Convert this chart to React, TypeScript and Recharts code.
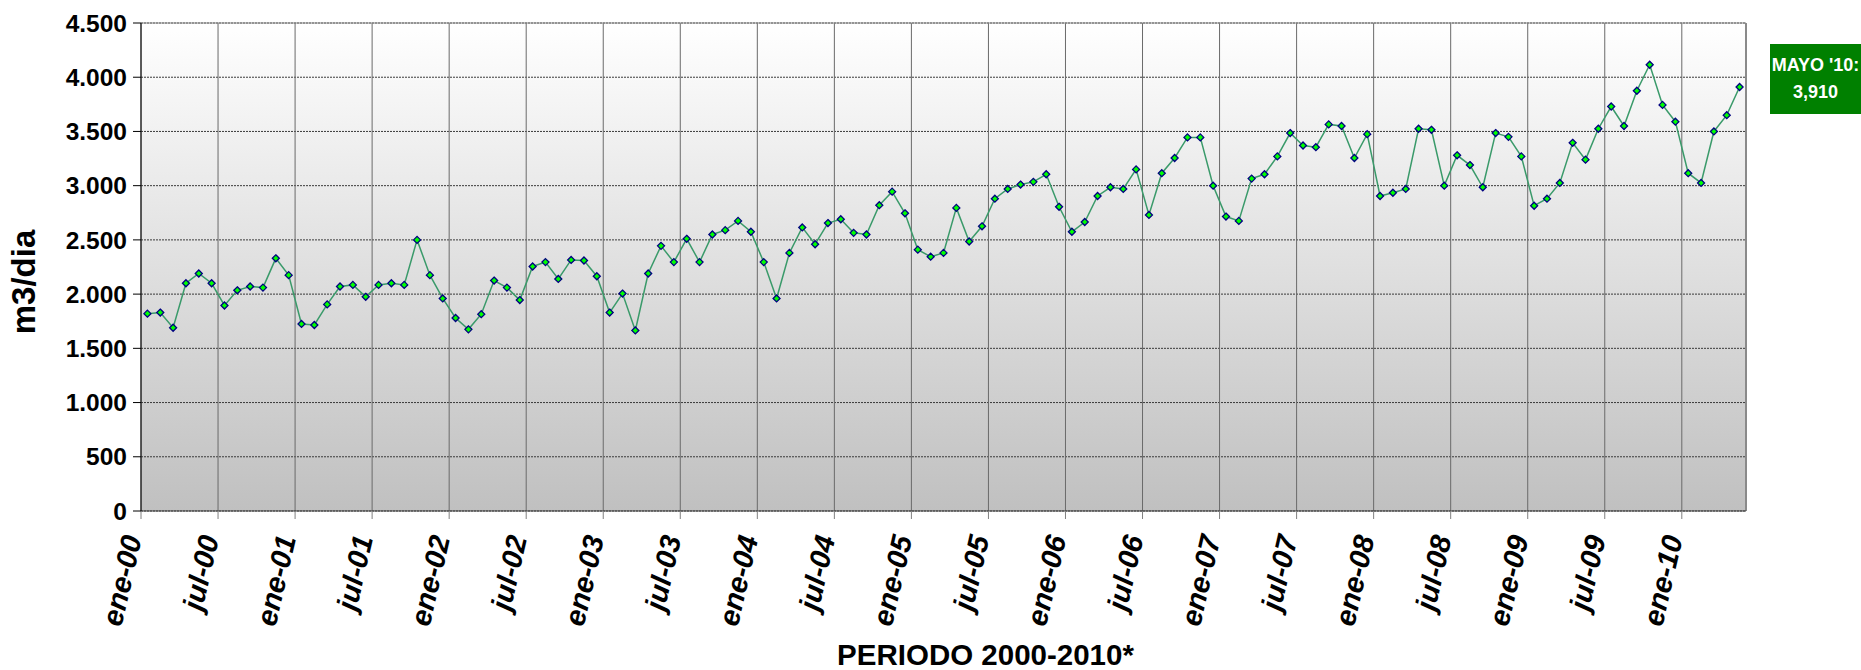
import { CartesianGrid, Label, Line, LineChart, ReferenceLine, XAxis, YAxis } from "recharts";

// consumo mensual (m3/dia)
const consumo2000 = [1820, 1830, 1690, 2100, 2190, 2100, 1895, 2035, 2070, 2060, 2330, 2175];
const consumo2001 = [1725, 1715, 1905, 2070, 2085, 1975, 2085, 2100, 2085, 2500, 2175, 1960];
const consumo2002 = [1780, 1675, 1815, 2125, 2060, 1945, 2255, 2295, 2140, 2315, 2310, 2165];
const consumo2003 = [1830, 2005, 1665, 2190, 2445, 2295, 2510, 2295, 2550, 2590, 2675, 2575];
const consumo2004 = [2295, 1960, 2380, 2615, 2460, 2655, 2690, 2565, 2550, 2820, 2945, 2745];
const consumo2005 = [2410, 2345, 2380, 2795, 2485, 2625, 2880, 2970, 3010, 3035, 3105, 2805];
const consumo2006 = [2575, 2665, 2905, 2985, 2970, 3150, 2730, 3115, 3255, 3445, 3445, 3000];
const consumo2007 = [2715, 2675, 3065, 3105, 3270, 3485, 3370, 3355, 3565, 3550, 3255, 3475];
const consumo2008 = [2905, 2935, 2970, 3525, 3515, 3000, 3280, 3190, 2985, 3485, 3450, 3270];
const consumo2009 = [2815, 2880, 3025, 3395, 3240, 3525, 3730, 3550, 3875, 4115, 3745, 3590];
const consumo2010 = [3115, 3025, 3500, 3650, 3910];

const meses = ["ene", "feb", "mar", "abr", "may", "jun", "jul", "ago", "sep", "oct", "nov", "dic"];
const anios = ["00", "01", "02", "03", "04", "05", "06", "07", "08", "09", "10"];

const tickLabels = [
  "ene-00", "jul-00", "ene-01", "jul-01", "ene-02", "jul-02", "ene-03", "jul-03",
  "ene-04", "jul-04", "ene-05", "jul-05", "ene-06", "jul-06", "ene-07", "jul-07",
  "ene-08", "jul-08", "ene-09", "jul-09", "ene-10",
];
const yTicks = [0, 500, 1000, 1500, 2000, 2500, 3000, 3500, 4000, 4500];

const serie = [
  ...consumo2000, ...consumo2001, ...consumo2002, ...consumo2003, ...consumo2004, ...consumo2005,
  ...consumo2006, ...consumo2007, ...consumo2008, ...consumo2009, ...consumo2010,
];

const data = serie.map((v, i) => ({
  idx: i,
  periodo: `${meses[i % 12]}-${anios[Math.floor(i / 12)]}`,
  m3: v,
}));

// ticks on the category boundaries, every 6 months
const xTicks = tickLabels.map((_, k) => k * 6 - 0.5);

const FONT = "'Liberation Sans', Arial, sans-serif";

const fmtMiles = (v: number) =>
  v >= 1000 ? `${Math.floor(v / 1000)}.${String(v % 1000).padStart(3, "0")}` : String(v);

function XTick(props: any) {
  const { x, y, index } = props;
  const ax = x + 1;
  const ay = y + 17;
  return (
    <text
      x={ax}
      y={ay}
      transform={`rotate(-77, ${ax}, ${ay})`}
      textAnchor="end"
      fontFamily={FONT}
      fontSize={29}
      fontWeight="bold"
      fontStyle="italic"
      fill="#000"
    >
      {tickLabels[index]}
    </text>
  );
}

function Diamond(props: any) {
  const { cx, cy, index } = props;
  const r = 3.5;
  return (
    <path
      key={`dot-${index}`}
      d={`M${cx},${cy - r} L${cx + r},${cy} L${cx},${cy + r} L${cx - r},${cy} Z`}
      fill="#00ff00"
      stroke="#000080"
      strokeWidth={1.3}
    />
  );
}

export default function App() {
  return (
    <div style={{ position: "absolute", left: 0, top: 0, width: 1861, height: 670, background: "#fff" }}>
      <LineChart
        width={1861}
        height={670}
        data={data}
        margin={{ top: 23, right: 115, bottom: 0, left: 0 }}
      >
        <defs>
          <linearGradient id="fondo" x1="0" y1="0" x2="0" y2="1">
            <stop offset="0%" stopColor="#ffffff" />
            <stop offset="100%" stopColor="#c0c0c0" />
          </linearGradient>
        </defs>
        <CartesianGrid
          vertical={false}
          fill="url(#fondo)"
          stroke="#3a3a3a"
          strokeDasharray="2 1"
        />
        <CartesianGrid horizontal={false} stroke="#6a6a6a" />
        <XAxis
          type="number"
          dataKey="idx"
          domain={[-0.5, 124.5]}
          ticks={xTicks}
          interval={0}
          allowDataOverflow
          height={159}
          axisLine={{ stroke: "#404040" }}
          tickLine={{ stroke: "#808080" }}
          tickSize={8}
          tick={<XTick />}
        >
          <Label
            content={({ viewBox }: any) => (
              <text
                x={viewBox.x + viewBox.width / 2 + 42}
                y={665}
                textAnchor="middle"
                fontFamily={FONT}
                fontSize={29.5}
                fontWeight="bold"
                fill="#000"
              >
                PERIODO 2000-2010*
              </text>
            )}
          />
        </XAxis>
        <YAxis
          domain={[0, 4500]}
          ticks={yTicks}
          interval={0}
          width={141}
          axisLine={{ stroke: "#000" }}
          tickLine={{ stroke: "#000" }}
          tickSize={8}
          tickMargin={6}
          tickFormatter={fmtMiles}
          tick={{ fontSize: 24.5, fontWeight: "bold", fill: "#000", fontFamily: FONT }}
        >
          <Label
            content={({ viewBox }: any) => {
              const cx = 23;
              const cy = viewBox.y + viewBox.height / 2 + 15;
              return (
                <text
                  x={cx}
                  y={cy}
                  transform={`rotate(-90, ${cx}, ${cy})`}
                  textAnchor="middle"
                  dominantBaseline="central"
                  fontFamily={FONT}
                  fontSize={33}
                  fontWeight="bold"
                  fill="#000"
                >
                  m3/dia
                </text>
              );
            }}
          />
        </YAxis>
        <ReferenceLine x={124.5} stroke="#8a8a8a" strokeWidth={2} />
        <ReferenceLine y={4500} stroke="#8a8a8a" strokeWidth={1} />
        <Line
          type="linear"
          dataKey="m3"
          stroke="#3a9a6a"
          strokeWidth={1.5}
          dot={Diamond}
          activeDot={false}
          isAnimationActive={false}
        />
      </LineChart>
      <div
        style={{
          position: "absolute",
          left: 1770,
          top: 44,
          width: 91,
          height: 70,
          boxSizing: "border-box",
          paddingTop: 8,
          background: "#008000",
          color: "#fff",
          fontFamily: FONT,
          fontWeight: "bold",
          fontSize: 18,
          lineHeight: "26.6px",
          textAlign: "center",
        }}
      >
        <div>MAYO '10:</div>
        <div>3,910</div>
      </div>
    </div>
  );
}
